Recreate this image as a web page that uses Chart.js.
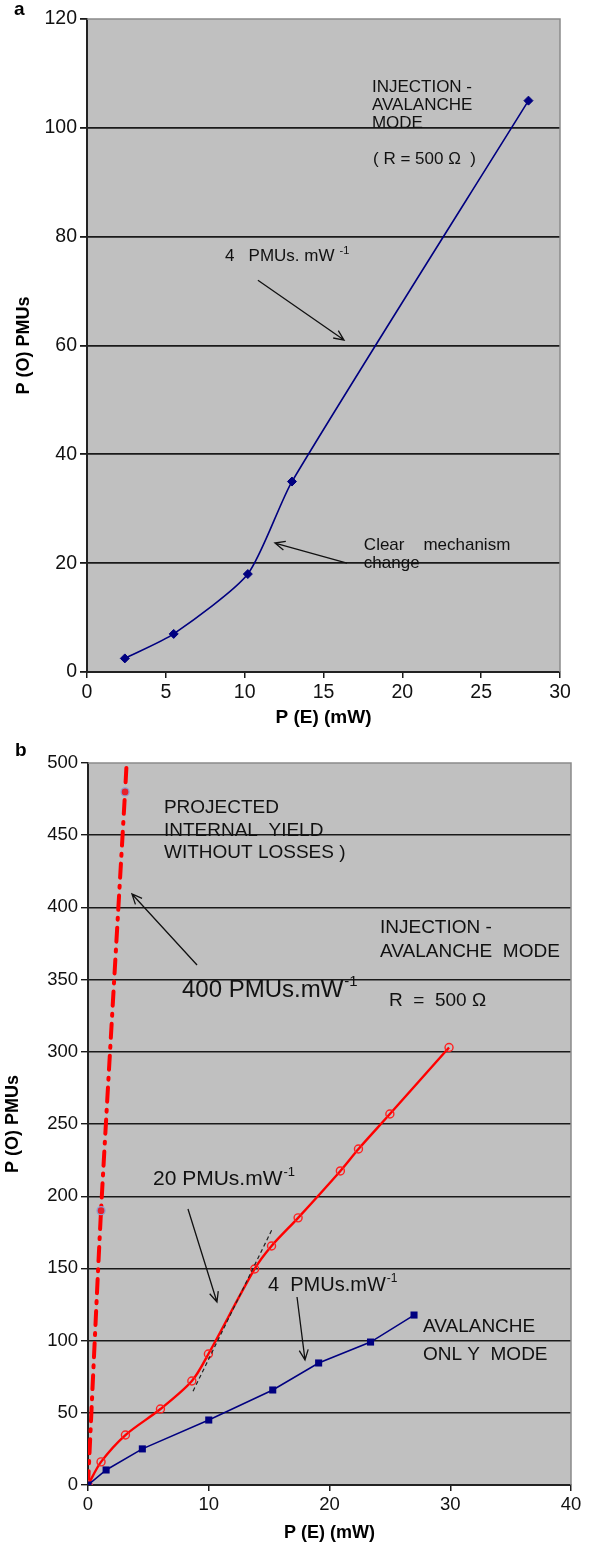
<!DOCTYPE html>
<html>
<head>
<meta charset="utf-8">
<script src="https://cdn.jsdelivr.net/npm/chart.js@4.4.0/dist/chart.umd.min.js"></script>
<style>
  body { margin: 0; background: #fff; }
  canvas { display: block; }
</style>
</head>
<body>
<canvas id="chartA" width="590" height="740"></canvas>
<canvas id="chartB" width="590" height="806"></canvas>
<script>
// (a) injection-avalanche mode, R = 500 ohm
const aPowerIn = [2.4, 5.5, 10.2, 13, 28];
const aPowerOut = [2.5, 7, 18, 35, 105];
const aXTicks = [0, 5, 10, 15, 20, 25, 30];
const aYTicks = [0, 20, 40, 60, 80, 100, 120];

// (b) projected yield, injection-avalanche and avalanche-only curves
const bProjectedIn = [0, 1.08, 3.07, 3.2];
const bProjectedOut = [0, 190, 480, 500];
const bInjectionIn = [0, 1.08, 3.1, 6.0, 8.6, 9.97, 13.8, 15.2, 17.4, 20.9, 22.4, 25.0, 29.9];
const bInjectionOut = [0, 16, 34.6, 52.6, 72, 90.7, 149.6, 165.5, 185, 217.5, 232.7, 256.9, 303];
const bAvalancheIn = [0, 1.5, 4.5, 10.0, 15.3, 19.1, 23.4, 27.0];
const bAvalancheOut = [0, 10.4, 25, 45, 65.8, 84.5, 99, 117.7];
const bSlopeIn = [8.7, 15.3];
const bSlopeOut = [65, 178];
const bXTicks = [0, 10, 20, 30, 40];
const bYTicks = [0, 50, 100, 150, 200, 250, 300, 350, 400, 450, 500];

const FONT = '"Liberation Sans", Arial, sans-serif';
Chart.defaults.font.family = FONT;
Chart.defaults.color = '#000';

const pts = (xs, ys) => xs.map((x, i) => ({ x, y: ys[i] }));

// grey plot area with a light frame on top and right
const plotFrame = {
  id: 'plotFrame',
  beforeDraw(chart) {
    const { ctx, chartArea: a } = chart;
    ctx.save();
    ctx.fillStyle = '#c0c0c0';
    ctx.fillRect(a.left, a.top, a.right - a.left, a.bottom - a.top);
    ctx.restore();
  },
  beforeDatasetsDraw(chart) {
    const { ctx, chartArea: a } = chart;
    ctx.save();
    ctx.strokeStyle = '#8a8a8a';
    ctx.lineWidth = 1.5;
    ctx.beginPath();
    ctx.moveTo(a.left, a.top);
    ctx.lineTo(a.right, a.top);
    ctx.lineTo(a.right, a.bottom);
    ctx.stroke();
    ctx.restore();
  }
};

// text notes and arrows placed in data units
const notes = {
  id: 'notes',
  afterDatasetsDraw(chart, args, opts) {
    const { ctx, scales: { x, y } } = chart;
    ctx.save();
    ctx.fillStyle = '#111';
    ctx.textBaseline = 'middle';
    ctx.textAlign = 'left';
    (opts.texts || []).forEach(t => {
      const px = x.getPixelForValue(t.x);
      const py = y.getPixelForValue(t.y);
      ctx.font = `${t.size}px ${FONT}`;
      t.lines.forEach((line, i) => ctx.fillText(line, px, py + i * (t.gap || 0)));
      if (t.sup) {
        const w = ctx.measureText(t.lines[0]).width;
        ctx.font = `${Math.round(t.size * 0.62)}px ${FONT}`;
        ctx.fillText(t.sup, px + w + (t.supGap || 1), py - t.size * 0.32);
      }
    });
    ctx.strokeStyle = '#111';
    ctx.lineWidth = 1.3;
    (opts.arrows || []).forEach(a => {
      const x0 = x.getPixelForValue(a.from[0]), y0 = y.getPixelForValue(a.from[1]);
      const x1 = x.getPixelForValue(a.to[0]), y1 = y.getPixelForValue(a.to[1]);
      const ang = Math.atan2(y1 - y0, x1 - x0);
      const len = 11, spread = 0.42;
      ctx.beginPath();
      ctx.moveTo(x0, y0);
      ctx.lineTo(x1, y1);
      ctx.moveTo(x1 - len * Math.cos(ang - spread), y1 - len * Math.sin(ang - spread));
      ctx.lineTo(x1, y1);
      ctx.lineTo(x1 - len * Math.cos(ang + spread), y1 - len * Math.sin(ang + spread));
      ctx.stroke();
    });
    if (opts.panel) {
      ctx.font = `bold 19px ${FONT}`;
      ctx.fillStyle = '#000';
      ctx.fillText(opts.panel.text, opts.panel.left, opts.panel.mid);
    }
    ctx.restore();
  }
};

function axes(cfg) {
  const gridColor = '#1a1a1a';
  return {
    x: {
      type: 'linear',
      min: cfg.xTicks[0],
      max: cfg.xTicks[cfg.xTicks.length - 1],
      afterBuildTicks: s => { s.ticks = cfg.xTicks.map(v => ({ value: v })); },
      afterFit: s => { s.height = cfg.xHeight; },
      border: { color: '#222', width: 2 },
      grid: { drawOnChartArea: false, tickColor: gridColor, tickLength: 6, lineWidth: 1.5 },
      ticks: { font: { size: cfg.tickSize }, color: '#111', padding: 3, maxRotation: 0 },
      title: { display: true, text: 'P (E) (mW)', font: { size: cfg.xTitleSize, weight: 'bold' }, color: '#000', padding: { bottom: cfg.xTitlePad, top: 0 } }
    },
    y: {
      type: 'linear',
      min: cfg.yTicks[0],
      max: cfg.yTicks[cfg.yTicks.length - 1],
      afterBuildTicks: s => { s.ticks = cfg.yTicks.map(v => ({ value: v })); },
      afterFit: s => { s.width = cfg.yWidth; },
      border: { color: '#222', width: 2 },
      grid: {
        color: c => (c.tick && c.tick.value === cfg.yTicks[cfg.yTicks.length - 1]) ? 'rgba(0,0,0,0)' : gridColor,
        tickColor: gridColor,
        lineWidth: cfg.gridWidth,
        tickLength: 7
      },
      ticks: { font: { size: cfg.tickSize }, color: '#111', padding: 3 },
      title: { display: true, text: 'P (O) PMUs', font: { size: 18, weight: 'bold' }, color: '#000', padding: { top: cfg.yTitlePad, bottom: 0 } }
    }
  };
}

new Chart(document.getElementById('chartA'), {
  type: 'scatter',
  data: {
    datasets: [{
      data: pts(aPowerIn, aPowerOut),
      showLine: true,
      tension: 0.22,
      borderColor: '#000080',
      borderWidth: 1.6,
      backgroundColor: '#000080',
      pointStyle: 'rectRot',
      pointRadius: 4.5,
      pointBorderWidth: 1
    }]
  },
  options: {
    responsive: false,
    animation: false,
    layout: { padding: { top: 19, right: 30, left: 0, bottom: 0 } },
    plugins: {
      legend: { display: false },
      tooltip: { enabled: false },
      notes: {
        panel: { text: 'a', left: 14, mid: 10 },
        texts: [
          { x: 18.07, y: 107.5, size: 17, gap: 18, lines: ['INJECTION -', 'AVALANCHE', 'MODE'] },
          { x: 18.14, y: 94.3, size: 17, lines: ['( R = 500 \u03A9  )'] },
          { x: 8.75, y: 76.4, size: 17, lines: ['4   PMUs. mW'], sup: '-1', supGap: 5 },
          { x: 17.56, y: 23.2, size: 17, gap: 18, lines: ['Clear    mechanism', 'change'] }
        ],
        arrows: [
          { from: [10.84, 72.0], to: [16.3, 61.0] },
          { from: [16.49, 20.0], to: [11.92, 23.7] }
        ]
      }
    },
    scales: axes({ xTicks: aXTicks, yTicks: aYTicks, xHeight: 68, yWidth: 87, xTitlePad: 11, yTitlePad: 13, gridWidth: 1.8, tickSize: 19.5, xTitleSize: 19 })
  },
  plugins: [plotFrame, notes]
});

new Chart(document.getElementById('chartB'), {
  type: 'scatter',
  data: {
    datasets: [
      {
        data: pts(bAvalancheIn, bAvalancheOut),
        showLine: true,
        tension: 0,
        borderColor: '#000080',
        borderWidth: 1.5,
        backgroundColor: '#000080',
        pointStyle: 'rect',
        pointRadius: 5,
        pointBorderWidth: 0
      },
      {
        data: pts(bSlopeIn, bSlopeOut),
        showLine: true,
        borderColor: '#222',
        borderWidth: 1.2,
        borderDash: [4, 3],
        pointRadius: 0
      },
      {
        data: pts(bInjectionIn, bInjectionOut),
        showLine: true,
        tension: 0.3,
        borderColor: '#ff0000',
        borderWidth: 2.4,
        backgroundColor: 'rgba(0,0,0,0)',
        pointStyle: 'circle',
        pointRadius: 4,
        pointBorderWidth: 1.4,
        pointBorderColor: '#ff2020'
      },
      {
        data: pts(bProjectedIn, bProjectedOut),
        showLine: true,
        tension: 0.2,
        borderColor: '#ff0000',
        borderWidth: 4,
        borderDash: [14, 8, 2, 8],
        borderCapStyle: 'round',
        backgroundColor: '#e8202a',
        pointStyle: 'circle',
        pointRadius: [4, 4, 4, 0],
        pointBorderWidth: 1.3,
        pointBorderColor: '#8aa2d8'
      }
    ]
  },
  options: {
    responsive: false,
    animation: false,
    layout: { padding: { top: 23, right: 19, left: 0, bottom: 0 } },
    plugins: {
      legend: { display: false },
      tooltip: { enabled: false },
      notes: {
        panel: { text: 'b', left: 15, mid: 11 },
        texts: [
          { x: 6.29, y: 468.8, size: 19, gap: 22.5, lines: ['PROJECTED', 'INTERNAL  YIELD', 'WITHOUT LOSSES )'] },
          { x: 7.78, y: 342.8, size: 24, lines: ['400 PMUs.mW'], sup: '-1' },
          { x: 24.18, y: 385.7, size: 19, gap: 24, lines: ['INJECTION -', 'AVALANCHE  MODE'] },
          { x: 24.93, y: 335.2, size: 19, lines: ['R  =  500 \u03A9'] },
          { x: 5.38, y: 211.9, size: 21, lines: ['20 PMUs.mW'], sup: '-1' },
          { x: 14.91, y: 138.5, size: 20, lines: ['4  PMUs.mW'], sup: '-1' },
          { x: 27.74, y: 109.4, size: 19, gap: 28, lines: ['AVALANCHE', 'ONL Y  MODE'] }
        ],
        arrows: [
          { from: [9.03, 360.1], to: [3.64, 409.3] },
          { from: [8.28, 191.1], to: [10.68, 126.7] },
          { from: [17.31, 130.2], to: [17.97, 86.6] }
        ]
      }
    },
    scales: axes({ xTicks: bXTicks, yTicks: bYTicks, xHeight: 61, yWidth: 88, xTitlePad: 2, yTitlePad: 2, gridWidth: 1.4, tickSize: 18.5, xTitleSize: 18 })
  },
  plugins: [plotFrame, notes]
});
</script>
</body>
</html>
